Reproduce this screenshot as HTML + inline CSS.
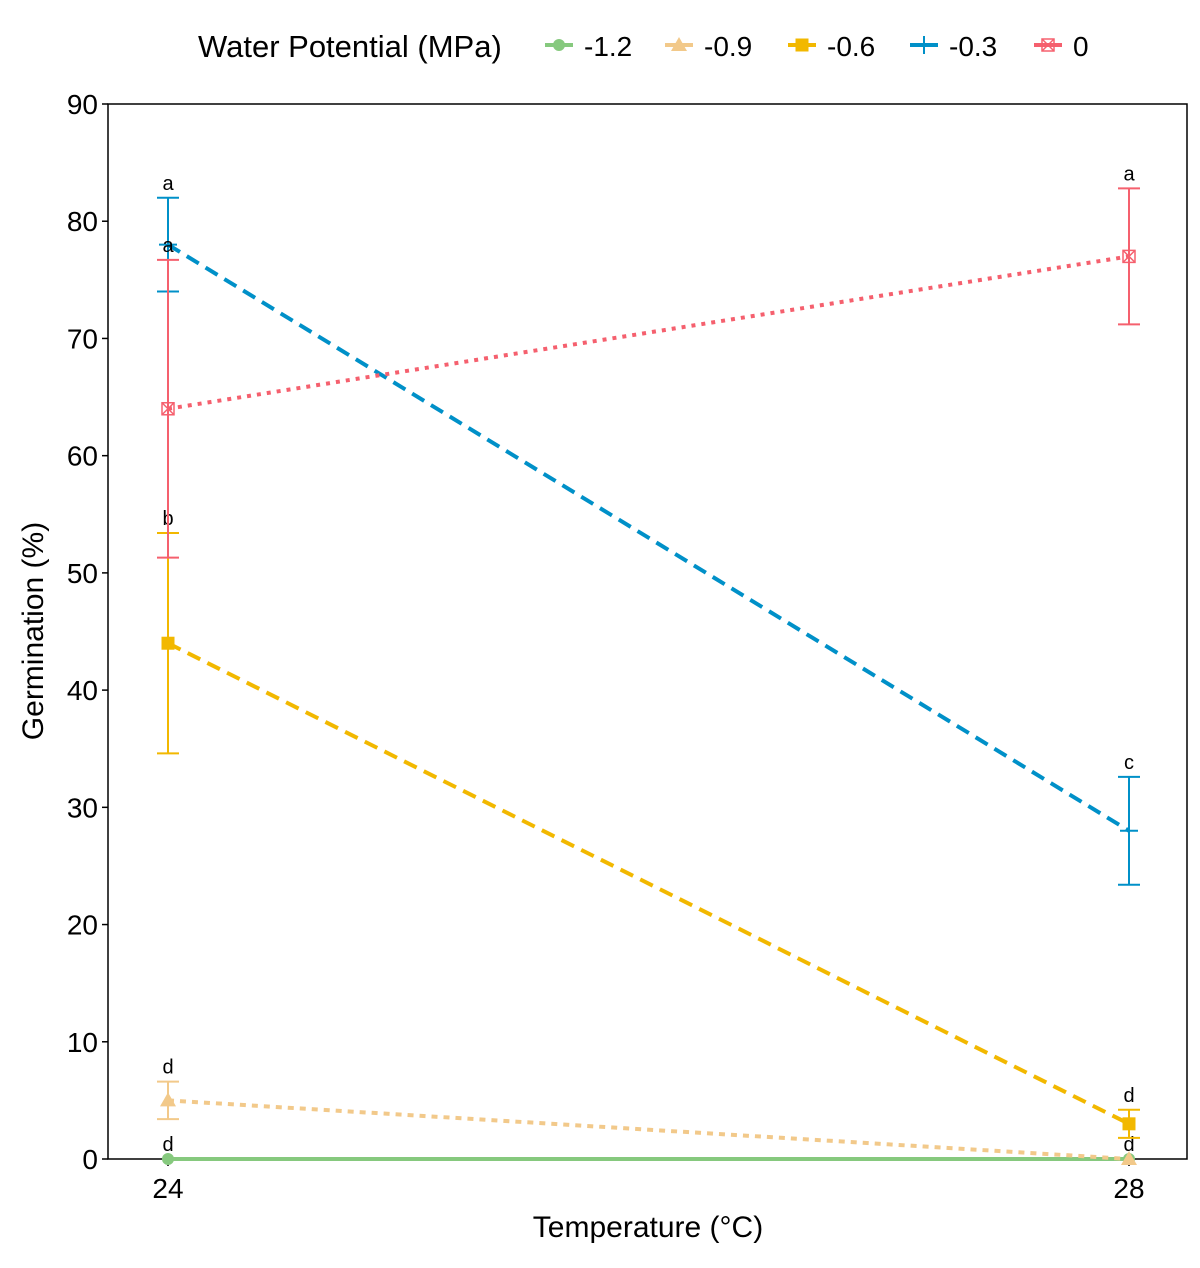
<!DOCTYPE html>
<html><head><meta charset="utf-8"><style>
body{margin:0;background:#fff}
text{font-family:"Liberation Sans",Arial,sans-serif}
</style></head><body>
<svg id="chart" width="1200" height="1263" xmlns="http://www.w3.org/2000/svg"></svg>
<script>
const temps=[24,28];
const seriesNames=["-1.2","-0.9","-0.6","-0.3","0"];
const meansA=[0,5,44,78,64];
const meansB=[0,0,3,28,77];
const errA=[0,1.6,9.4,4,12.7];
const errB=[0,0,1.2,4.6,5.8];
const lettersA=["d","d","b","a","a"];
const lettersB=["d","","d","c","a"];
const yTicks=[0,10,20,30,40,50,60,70,80,90];
const colors=["#86c97e","#f2c98a","#f2b800","#0090c8","#f5606e"];
const dashes=["","6,6","14,8","14,8","4,6"];
const NS="http://www.w3.org/2000/svg";
const svg=document.getElementById('chart');
const L=108,R=1187,T=104,B=1159;
const x=t=>168+(t-24)/(28-24)*(1129-168);
const y=v=>B-v/90*(B-T);
function mk(tag,attrs,parent){const e=document.createElementNS(NS,tag);for(const k in attrs)e.setAttribute(k,attrs[k]);(parent||svg).appendChild(e);return e;}
mk('rect',{x:L,y:T,width:R-L,height:B-T,fill:'none',stroke:'#000','stroke-width':1.5});
yTicks.forEach(v=>{
 const tk=mk('line',{x1:L-6,x2:L,y1:y(v),y2:y(v),stroke:'#000','stroke-width':1.5});
 
 const t=mk('text',{x:L-10,y:y(v)+10,'text-anchor':'end','font-size':28});t.textContent=v;
 
});
temps.forEach(tv=>{
 mk('line',{x1:x(tv),x2:x(tv),y1:B,y2:B+7,stroke:'#000','stroke-width':1.5});
 const t=mk('text',{x:x(tv),y:B+39,'text-anchor':'middle','font-size':28});t.textContent=tv;
 
});
let t=mk('text',{x:648,y:1237,'text-anchor':'middle','font-size':30});t.textContent='Temperature (°C)';

t=mk('text',{x:0,y:0,'text-anchor':'middle','font-size':30,transform:'translate(43,631) rotate(-90)'});t.textContent='Germination (%)';

function marker(i,cx,cy,g){
 const c=colors[i];
 if(i==0)mk('circle',{cx,cy,r:6,fill:c},g);
 else if(i==1)mk('polygon',{points:`${cx},${cy-8} ${cx+8},${cy+6} ${cx-8},${cy+6}`,fill:c},g);
 else if(i==2)mk('rect',{x:cx-6.5,y:cy-6.5,width:13,height:13,fill:c},g);
 else if(i==3){mk('line',{x1:cx-9,x2:cx+9,y1:cy,y2:cy,stroke:c,'stroke-width':2},g);mk('line',{x1:cx,x2:cx,y1:cy-9,y2:cy+9,stroke:c,'stroke-width':2},g);}
 else{mk('rect',{x:cx-6,y:cy-6,width:12,height:12,fill:'none',stroke:c,'stroke-width':1.5},g);mk('path',{d:`M${cx-6},${cy-6}L${cx+6},${cy+6}M${cx+6},${cy-6}L${cx-6},${cy+6}`,stroke:c,'stroke-width':1.5},g);}
}
seriesNames.forEach((n,i)=>{
 const g=mk('g',{});
 const c=colors[i];
 const ln=mk('line',{x1:x(24),y1:y(meansA[i]),x2:x(28),y2:y(meansB[i]),stroke:c,'stroke-width':4,'stroke-dasharray':dashes[i]},g);
 
 [[24,meansA[i],errA[i],lettersA[i]],[28,meansB[i],errB[i],lettersB[i]]].forEach(([tv,m,e,lt])=>{
  const cx=x(tv);
  if(e>0){
   const eb=mk('path',{d:`M${cx},${y(m-e)}V${y(m+e)}M${cx-11},${y(m-e)}H${cx+11}M${cx-11},${y(m+e)}H${cx+11}`,stroke:c,'stroke-width':2,fill:'none'},g);
   
  }
  marker(i,cx,y(m),g);
  if(lt){const tx=mk('text',{x:cx,y:y(m+e)-8,'text-anchor':'middle','font-size':20},g);tx.textContent=lt;
   }
 });
});
const lg=mk('g',{});
t=mk('text',{x:198,y:57,'font-size':31},lg);t.textContent='Water Potential (MPa)';
const lx=[545,665,788,910,1034];
seriesNames.forEach((n,i)=>{
 const e=mk('g',{},lg);
 mk('line',{x1:lx[i],x2:lx[i]+28,y1:45,y2:45,stroke:colors[i],'stroke-width':4},e);
 marker(i,lx[i]+14,45,e);
 const tx=mk('text',{x:lx[i]+39,y:56,'font-size':28},e);tx.textContent=n;
});
</script>
</body></html>
